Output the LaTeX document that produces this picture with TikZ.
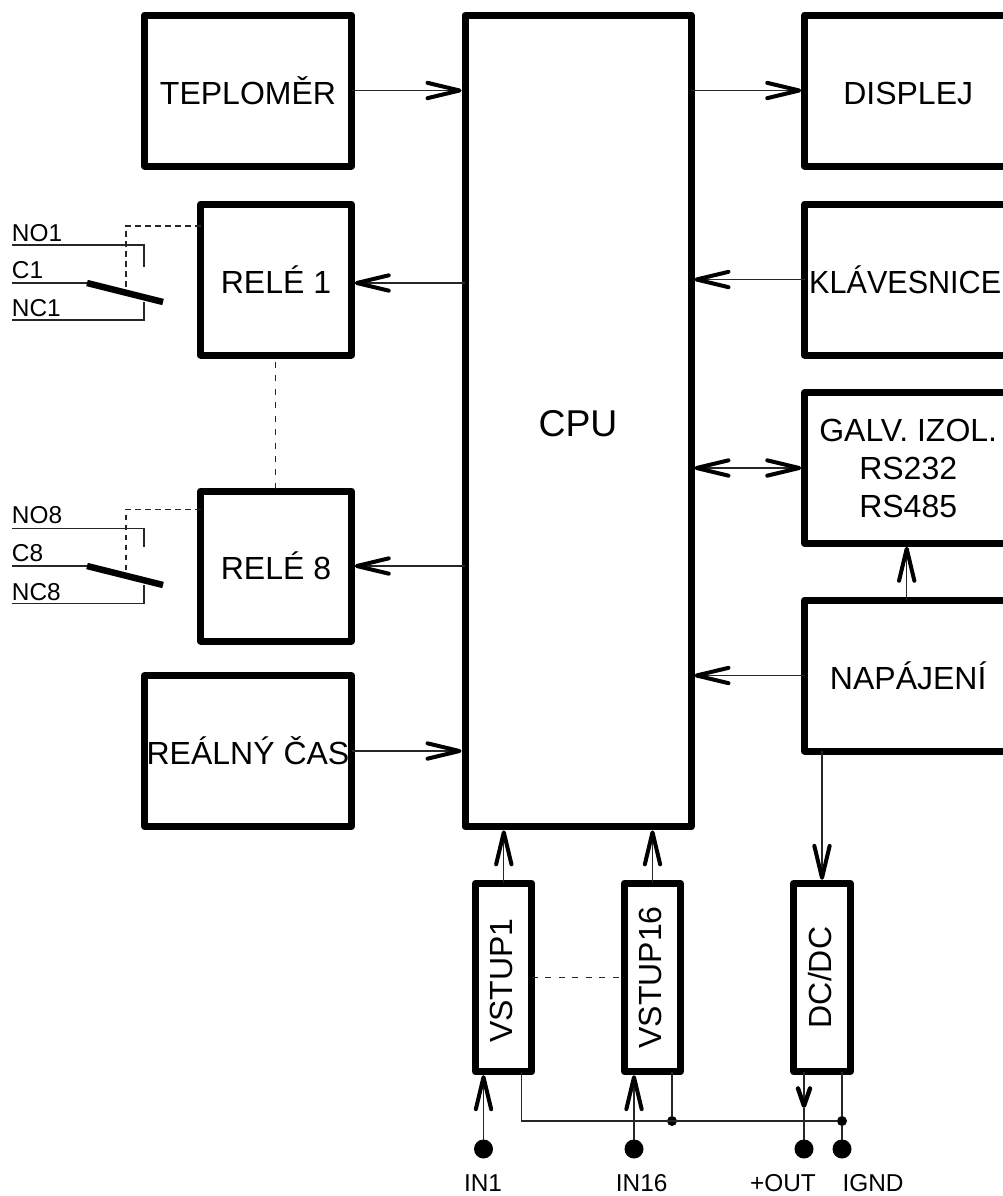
\documentclass[tikz,border=0pt]{standalone}
\usepackage{fontspec}
\setmainfont{Liberation Sans}
\usetikzlibrary{arrows.meta}
\newcommand{\bigf}{\fontsize{24pt}{28.5pt}\selectfont}
\newcommand{\cpuf}{\fontsize{28pt}{30pt}\selectfont}
\newcommand{\smallf}{\fontsize{18.3pt}{20pt}\selectfont}
\tikzset{
  x=0.75pt,y=-0.75pt,
  wh/.style 2 args={minimum width=#1*0.75pt,minimum height=#2*0.75pt},
  blockbox/.style={draw=black,line width=5.25pt,line join=round,inner sep=0pt,outer sep=0pt,font=\bigf,align=center},
  boxtext/.style={text height=20.6pt,text depth=0pt},
  thin line/.style={line width=0.85pt,black!85},
  headtip/.tip={Straight Barb[length=24pt,width=11.5pt,line width=3pt,round,black]},
  smallhead/.tip={Straight Barb[length=13pt,width=9pt,line width=3.3pt,round,black]},
  flow/.style={thin line,-{headtip},shorten >=2.6pt},
  dashline/.style={line width=0.75pt,black!85,dash pattern=on 4.5pt off 5.6pt},
  shortdash/.style={line width=0.8pt,black!85,dash pattern=on 4.2pt off 3.3pt},
  blade/.style={line width=4.9pt,black},
  terminal/.style={circle,fill=black,inner sep=0pt,outer sep=0pt,minimum size=14.25pt},
  junction/.style={circle,fill=black,inner sep=0pt,outer sep=0pt,minimum size=7.5pt},
  plainlabel/.style={inner sep=0pt,outer sep=0pt,font=\smallf,text height=13pt,text depth=0pt},
  contact/.style={plainlabel,anchor=south west},
}
\begin{document}
\begin{tikzpicture}
\useasboundingbox (0,0) rectangle (1003,1196);
\clip (0,0) rectangle (1003,1196);

% main blocks
\node[blockbox,boxtext,wh={207}{151}] (tep) at (248,90.5) {TEPLOMĚR};
\node[blockbox,text height=22.5pt,text depth=0pt,font=\cpuf,wh={226}{811.7}] (cpu) at (578,421) {CPU};
\node[blockbox,boxtext,wh={207}{151}] (dis) at (908.2,90.5) {DISPLEJ};
\node[blockbox,boxtext,wh={207}{151}] (kla) at (908.2,279.5) {\scalebox{0.955}[1]{KLÁVESNICE}\kern4.5pt};
\node[blockbox,wh={207}{150.6}] (gal) at (908.2,468) {GALV. IZOL.\\RS232\\RS485};
\node[blockbox,boxtext,wh={207}{151}] (nap) at (908.2,675.5) {NAPÁJENÍ};
\node[blockbox,boxtext,wh={150.6}{151}] (re1) at (276,279.5) {RELÉ 1};
\node[blockbox,boxtext,wh={150.6}{150}] (re8) at (276,566) {RELÉ 8};
\node[blockbox,boxtext,wh={207}{150.6}] (rea) at (248,751) {REÁLNÝ ČAS};
\node[blockbox,wh={56.3}{188.4}] (vs1) at (503.8,977.5) {\rotatebox{90}{\kern-4.5pt VSTUP1}\kern3.6pt};
\node[blockbox,wh={56}{188.4}] (vs16) at (652.5,977.5) {\rotatebox{90}{VSTUP16}\kern3.6pt};
\node[blockbox,wh={56.3}{188.4}] (dc) at (822,977.5) {\rotatebox{90}{DC/DC}\kern3.6pt};

% terminals and junctions
\node[terminal] (in1) at (483.5,1149) {};
\node[terminal] (in16) at (634,1149) {};
\node[terminal] (out) at (804,1149) {};
\node[terminal] (ignd) at (842,1149) {};
\node[junction] (j1) at (672,1121) {};
\node[junction] (j2) at (842,1121) {};
\node[plainlabel] (lin1) at (483,1183) {IN1};
\node[plainlabel] (lin16) at (641.7,1183) {IN16};
\node[plainlabel] (lout) at (783,1183) {+OUT};
\node[plainlabel] (lignd) at (873,1183) {IGND};

% horizontal flows
\draw[flow] (tep.east) -- (tep.east -| cpu.west);
\draw[flow] (rea.east) -- (rea.east -| cpu.west);
\draw[flow] (cpu.east |- dis.west) -- (dis.west);
\draw[flow] (kla.west) -- (kla.west -| cpu.east);
\draw[flow] (nap.west) -- (nap.west -| cpu.east);
\draw[thin line,{headtip}-{headtip},shorten >=2.6pt,shorten <=2.6pt] (gal.west -| cpu.east) -- (gal.west);
\draw[flow] (cpu.west |- 0,283) -- (re1.east |- 0,283);
\draw[flow] (re8.east -| cpu.west) -- (re8.east);

% vertical flows
\draw[flow,xshift=-1pt] (vs1.north) -- (vs1.north |- cpu.south);
\draw[flow] (vs16.north) -- (vs16.north |- cpu.south);
\draw[flow] (906.7,600) -- (906.7,543.3);
\draw[flow] (dc.north |- nap.south) -- (dc.north);
\draw[flow] (in1) -- (in1 |- vs1.south);
\draw[flow] (in16) -- (in16 |- vs16.south);

% output arrow mid-way
\coordinate (outtip) at (804,1108);
\draw[thin line,-{smallhead}] (out |- dc.south) -- (outtip);
\draw[thin line] (outtip) -- (out);

% ground bus
\draw[thin line] (521.7,1072) -- (521.7,1121) -- (j2);
\draw[thin line] (j1 |- vs16.south) -- (j1);
\draw[thin line] (j2 |- dc.south) -- (j2) -- (ignd);

% dashed links
\draw[dashline] (275.7,361.7) -- (re8.north -| 275.7,0);
\draw[dashline] (vs1.east) -- (vs16.west);

% relay 1 contact
\coordinate (no1a) at (12,245); \coordinate (no1b) at (144,245); \coordinate (no1c) at (144,267);
\coordinate (c1a) at (12,283); \coordinate (c1b) at (87,283); \coordinate (c1c) at (163,302);
\coordinate (nc1a) at (12,320); \coordinate (nc1b) at (144,320); \coordinate (nc1c) at (144,302);
\draw[thin line] (no1a) -- (no1b) -- (no1c);
\draw[thin line] (c1a) -- (c1b);
\draw[thin line] (nc1a) -- (nc1b) -- (nc1c);
\draw[blade] (c1b) -- (c1c);
\draw[shortdash] (re1.west |- 0,226) -- (126,226) -- (126,288);
\node[contact] (no1) at (12,241) {NO1};
\node[contact] (c1) at (12,278.5) {C1};
\node[contact] (nc1) at (12,316.7) {NC1};

% relay 8 contact
\coordinate (no8a) at (12,528.3); \coordinate (no8b) at (144,528.3); \coordinate (no8c) at (144,547);
\coordinate (c8a) at (12,566); \coordinate (c8b) at (87,566); \coordinate (c8c) at (163,585);
\coordinate (nc8a) at (12,603.7); \coordinate (nc8b) at (144,603.7); \coordinate (nc8c) at (144,585);
\draw[thin line] (no8a) -- (no8b) -- (no8c);
\draw[thin line] (c8a) -- (c8b);
\draw[thin line] (nc8a) -- (nc8b) -- (nc8c);
\draw[blade] (c8b) -- (c8c);
\draw[shortdash] (re8.west |- 0,509.3) -- (126,509.3) -- (126,572);
\node[contact] (no8) at (12,523.5) {NO8};
\node[contact] (c8) at (12,561.7) {C8};
\node[contact] (nc8) at (12,600) {NC8};
\end{tikzpicture}
\end{document}
